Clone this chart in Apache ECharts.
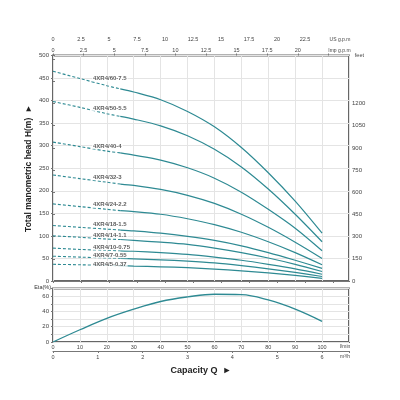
<!DOCTYPE html>
<html><head><meta charset="utf-8">
<script src="https://cdn.jsdelivr.net/npm/echarts@6/dist/echarts.min.js"></script>
<style>html,body{margin:0;padding:0;background:#fff}#c{width:400px;height:400px}</style>
</head><body><div id="c"></div>
<script>
// ---- data ----
const flowQ = [0, 10, 20, 25, 30, 40, 50, 60, 70, 80, 90, 100];   // l/min
const dashedEndIndex = 3; // curves are dashed up to 25 l/min
const models = ['4XR4/60-7.5','4XR4/50-5.5','4XR4/40-4','4XR4/32-3','4XR4/24-2.2','4XR4/18-1.5','4XR4/14-1.1','4XR4/10-0.75','4XR4/7-0.55','4XR4/5-0.37'];
const head60 = [465, 449, 433, 426, 419, 402, 376, 342, 296, 240, 177, 106];
const head50 = [398, 385, 371, 365, 359, 344, 322, 292, 253, 204, 148, 87];
const head40 = [308, 298, 288, 284, 279, 268, 251, 228, 197, 159, 117, 67];
const head32 = [235, 227, 219, 215, 212, 203, 190, 172, 148, 119, 86, 50];
const head24 = [171, 165, 159, 156, 154, 148, 138, 125, 108, 87, 63, 36];
const head18 = [123, 119, 115, 113, 111, 106, 99, 90, 78, 63, 46, 28];
const head14 = [100, 97, 93, 92, 90, 86, 81, 73, 63, 51, 37, 21];
const head10 = [73, 70, 68, 67, 66, 63, 59, 53, 46, 37, 27, 15];
const head7  = [55, 53, 51, 50, 49, 47, 44, 40, 34, 27, 19, 10];
const head5  = [37, 36, 34.5, 34, 33, 31.5, 29.5, 26.5, 22.5, 18, 12.5, 6];
const heads = [head60, head50, head40, head32, head24, head18, head14, head10, head7, head5];
const labelQ = 14.5;
const labelH = [449, 383, 299, 230, 169, 126, 102, 75, 57, 38];

const etaQ = [0, 10, 20, 30, 40, 50, 60, 70, 80, 90, 100];
const etaValues = [0, 16, 31, 43, 53, 59, 62.5, 62, 55, 43, 27];

const usGpmMax = 26.43, impGpmMax = 24.18, m3hMax = 6.6;
const usUnit = 'US g.p.m', impUnit = 'Imp g.p.m', lminUnit = 'l/min', m3hUnit = 'm³/h', feetUnit = 'feet';

// ---- chart ----
const FONT = 'Liberation Sans, Arial, sans-serif';
const LBL = '#444';
const TEAL = '#2e8a93';
const BORDER = '#666';
const GRIDC = '#e4e4e4';
const near = (v, s) => Math.abs(v / s - Math.round(v / s)) < 1e-6;

const series = [];
heads.forEach((h, i) => {
  const pts = flowQ.map((q, k) => [q, h[k]]);
  series.push({type:'line', xAxisIndex:0, yAxisIndex:0, data: pts.slice(0, dashedEndIndex + 1), smooth:0.3, symbol:'none',
    lineStyle:{color:TEAL, width:1.1, type:[3,2]}, silent:true, z:3});
  series.push({type:'line', xAxisIndex:0, yAxisIndex:0, data: pts.slice(dashedEndIndex), smooth:0.3, symbol:'none',
    lineStyle:{color:TEAL, width:1.2}, silent:true, z:3});
});
series.push({type:'scatter', xAxisIndex:0, yAxisIndex:0, symbolSize:0, z:5,
  data: models.map((m, i) => ({name:m, value:[labelQ, labelH[i]]})),
  label:{show:true, position:'right', distance:0, formatter:p => p.name, fontSize:6, fontWeight:'bold', color:'#333', fontFamily:FONT,
    backgroundColor:'#fff', padding:[0,1]}});
series.push({type:'line', xAxisIndex:3, yAxisIndex:2, data: etaQ.map((q, k) => [q, etaValues[k]]), smooth:0.4, symbol:'none',
  lineStyle:{color:TEAL, width:1.3}, silent:true});

const axisLbl = {fontSize:6, color:LBL, fontFamily:FONT};
const option = {
  animation:false,
  backgroundColor:'#fff',
  graphic:[{type:'text', right:36, top:52, style:{text:feetUnit, fontSize:5.5, fill:LBL, fontFamily:FONT}}],
  grid:[
    {left:53, right:51, top:55.5, height:225.5, show:true, borderColor:BORDER, borderWidth:2},
    {left:53, right:51, top:288.5, height:53.5, show:true, borderColor:BORDER, borderWidth:2}
  ],
  xAxis:[
    {gridIndex:0, type:'value', position:'bottom', min:0, max:110, interval:10,
      axisLine:{show:false}, axisTick:{show:false}, axisLabel:{show:false},
      splitLine:{show:true, lineStyle:{color:GRIDC, width:1}}},
    {gridIndex:0, type:'value', position:'top', offset:11, min:0, max:usGpmMax, interval:2.5,
      axisLine:{show:true, lineStyle:{color:'#777', width:1}}, axisTick:{show:true, length:2, inside:true, lineStyle:{color:'#777'}},
      axisLabel:Object.assign({}, axisLbl, {margin:2, fontSize:5.5, showMaxLabel:false,
        formatter:v => near(v, 2.5) ? (v <= 22.5 + 1e-6 ? String(v) : (Math.abs(v - 25) < 1e-6 ? '{u|' + usUnit + '}' : '')) : '',
        rich:{u:{fontSize:5, color:LBL, padding:[0,0,0,14]}}}),
      splitLine:{show:false}},
    {gridIndex:0, type:'value', position:'top', offset:0, min:0, max:impGpmMax, interval:2.5,
      axisLine:{show:false}, axisTick:{show:true, length:2, inside:false, lineStyle:{color:'#777'}},
      axisLabel:Object.assign({}, axisLbl, {margin:2, fontSize:5.5, showMaxLabel:false,
        formatter:v => near(v, 2.5) ? (v <= 20 + 1e-6 ? String(v) : (Math.abs(v - 22.5) < 1e-6 ? '{u|' + impUnit + '}' : '')) : '',
        rich:{u:{fontSize:5, color:LBL, padding:[0,0,0,22]}}}),
      splitLine:{show:false}},
    {gridIndex:1, type:'value', position:'bottom', min:0, max:110, interval:10,
      axisLine:{show:false}, axisTick:{show:false},
      axisLabel:Object.assign({}, axisLbl, {margin:2, fontSize:5.5,
        formatter:v => v <= 100 ? String(v) : '{u|' + lminUnit + '}',
        rich:{u:{fontSize:5, color:LBL, padding:[0,8,0,0]}}}),
      splitLine:{show:true, lineStyle:{color:GRIDC, width:1}}},
    {gridIndex:1, type:'value', position:'bottom', offset:9, min:0, max:m3hMax, interval:1,
      axisLine:{show:true, lineStyle:{color:'#777', width:1}}, axisTick:{show:true, length:2, lineStyle:{color:'#777'}},
      axisLabel:Object.assign({}, axisLbl, {margin:3, fontSize:5.5,
        formatter:v => near(v, 1) ? String(v) : '{u|' + m3hUnit + '}',
        rich:{u:{fontSize:5, color:LBL, padding:[0,8,0,0]}}}),
      splitLine:{show:false},
      name:'Capacity Q  ►', nameLocation:'middle', nameGap:15,
      nameTextStyle:{fontSize:9, fontWeight:'bold', color:'#222', fontFamily:FONT}}
  ],
  yAxis:[
    {gridIndex:0, type:'value', position:'left', min:0, max:500, interval:50,
      axisLine:{show:false}, axisTick:{show:true, length:2, lineStyle:{color:'#777'}},
      axisLabel:Object.assign({}, axisLbl, {margin:4}),
      splitLine:{show:true, lineStyle:{color:GRIDC, width:1}},
      name:'Total manometric head H(m)  ►', nameLocation:'middle', nameGap:20, nameMoveOverlap:false,
      nameTextStyle:{fontSize:8.5, fontWeight:'bold', color:'#222', fontFamily:FONT}},
    {gridIndex:0, type:'value', position:'right', min:0, max:1525, interval:150,
      axisLine:{show:false}, axisTick:{show:true, length:2, lineStyle:{color:'#777'}},
      axisLabel:Object.assign({}, axisLbl, {margin:3, formatter:v => (near(v,150) && v <= 1200) ? String(v) : ''}),
      splitLine:{show:false}},
    {gridIndex:1, type:'value', position:'left', min:0, max:70, interval:10,
      axisLine:{show:false}, axisTick:{show:true, length:2, lineStyle:{color:'#777'}},
      axisLabel:Object.assign({}, axisLbl, {margin:4, formatter:v => near(v, 20) ? String(v) : ''}),
      splitLine:{show:true, lineStyle:{color:GRIDC, width:1}},
      name:'Eta(%)', nameLocation:'end', nameGap:1,
      nameTextStyle:{fontSize:5.5, color:'#333', fontFamily:FONT, align:'right', verticalAlign:'middle', padding:[0,2,0,0]}}
  ],
  series
};
const chart = echarts.init(document.getElementById('c'), null, {renderer:'canvas'});
chart.setOption(option);
</script></body></html>
